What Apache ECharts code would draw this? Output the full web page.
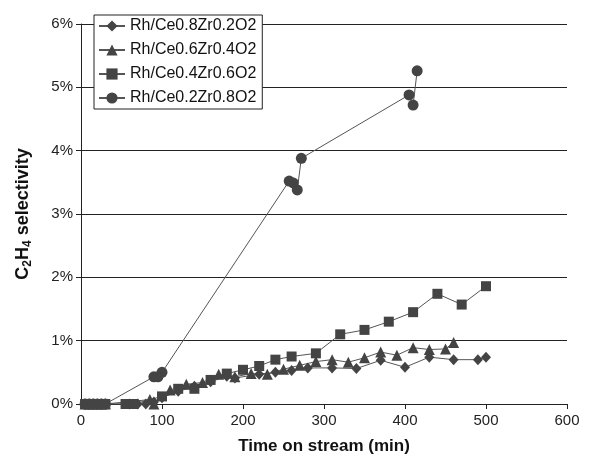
<!DOCTYPE html>
<html>
<head>
<meta charset="utf-8">
<script src="https://cdn.jsdelivr.net/npm/echarts@6/dist/echarts.min.js"></script>
<style>
html,body{margin:0;padding:0;background:#fff;}
#chart{width:606px;height:466px;}
</style>
</head>
<body>
<div id="chart"></div>
<script>
// Data (x: minutes, y: C2H4 selectivity in %)
const seriesNames = ['Rh/Ce0.8Zr0.2O2', 'Rh/Ce0.6Zr0.4O2', 'Rh/Ce0.4Zr0.6O2', 'Rh/Ce0.2Zr0.8O2'];
const xTicks = [0, 100, 200, 300, 400, 500, 600];
const yTicks = [0, 1, 2, 3, 4, 5, 6];

const ce08Time = [5, 10, 15, 20, 25, 30, 60, 70, 80, 90, 100, 120, 140, 160, 180, 190, 220, 240, 260, 280, 310, 340, 370, 400, 430, 460, 490, 500];
const ce08Sel  = [0, 0, 0, 0, 0, 0, 0, 0, 0, 0.03, 0.1, 0.2, 0.28, 0.35, 0.44, 0.41, 0.47, 0.5, 0.53, 0.57, 0.57, 0.56, 0.69, 0.58, 0.74, 0.7, 0.7, 0.74];

const ce06Time = [5, 10, 15, 20, 25, 30, 85, 90, 110, 130, 150, 170, 190, 210, 230, 250, 270, 290, 310, 330, 350, 370, 390, 410, 430, 450, 460];
const ce06Sel  = [0, 0, 0, 0, 0, 0, 0.07, 0, 0.22, 0.31, 0.34, 0.47, 0.43, 0.48, 0.47, 0.55, 0.61, 0.67, 0.7, 0.66, 0.73, 0.82, 0.77, 0.89, 0.86, 0.87, 0.97];

const ce04Time = [5, 10, 15, 20, 25, 30, 55, 65, 100, 120, 140, 160, 180, 200, 220, 240, 260, 290, 320, 350, 380, 410, 440, 470, 500];
const ce04Sel  = [0, 0, 0, 0, 0, 0, 0, 0, 0.12, 0.24, 0.24, 0.38, 0.48, 0.54, 0.6, 0.7, 0.75, 0.8, 1.1, 1.17, 1.3, 1.45, 1.74, 1.57, 1.86];

const ce02Time = [5, 10, 15, 20, 25, 30, 90, 95, 100, 257, 262, 267, 272, 405, 410, 415];
const ce02Sel  = [0, 0, 0, 0, 0, 0, 0.43, 0.43, 0.5, 3.52, 3.49, 3.38, 3.88, 4.88, 4.72, 5.26];

const times = [ce08Time, ce06Time, ce04Time, ce02Time];
const sels = [ce08Sel, ce06Sel, ce04Sel, ce02Sel];
const symbols = ['diamond', 'triangle', 'rect', 'circle'];
const symbolSizes = [[10, 11], 11, 10, 11];

const FONT = '"Liberation Sans", Arial, sans-serif';

const chart = echarts.init(document.getElementById('chart'), null, {renderer: 'canvas'});

const series = seriesNames.map((name, i) => ({
  name: name,
  type: 'line',
  data: times[i].map((t, j) => [t, sels[i][j]]),
  symbol: symbols[i],
  symbolSize: symbolSizes[i],
  showAllSymbol: true,
  lineStyle: {color: '#555', width: 1},
  itemStyle: {color: '#444', borderWidth: 0},
  emphasis: {disabled: true},
  animation: false
}));

chart.setOption({
  animation: false,
  backgroundColor: '#fff',
  textStyle: {fontFamily: FONT},
  grid: {left: 81, right: 39, top: 24, bottom: 62, containLabel: false},
  legend: {
    orient: 'vertical',
    left: 94,
    top: 15,
    data: seriesNames,
    backgroundColor: '#fff',
    borderColor: '#222',
    borderWidth: 1,
    borderRadius: 0,
    padding: [3, 6, 3, 4],
    itemGap: 8,
    itemWidth: 26,
    itemHeight: 14,
    textStyle: {fontFamily: FONT, fontSize: 16, color: '#111'},
    selectedMode: false
  },
  xAxis: {
    type: 'value',
    min: xTicks[0],
    max: xTicks[xTicks.length - 1],
    interval: 100,
    name: 'Time on stream (min)',
    nameLocation: 'middle',
    nameGap: 34,
    nameTextStyle: {fontFamily: FONT, fontSize: 17, fontWeight: 'bold', color: '#111'},
    axisLine: {show: true, lineStyle: {color: '#222', width: 1}},
    axisTick: {show: true, length: 5, lineStyle: {color: '#222'}},
    axisLabel: {fontFamily: FONT, fontSize: 15, color: '#222', margin: 9},
    splitLine: {show: false}
  },
  yAxis: {
    type: 'value',
    min: yTicks[0],
    max: yTicks[yTicks.length - 1],
    interval: 1,
    name: '{b|C}{s|2}{b|H}{s|4}{b| selectivity}',
    nameLocation: 'middle',
    nameRotate: 90,
    nameGap: 47,
    nameTextStyle: {
      fontFamily: FONT, fontSize: 18, fontWeight: 'bold', color: '#111',
      rich: {
        b: {fontFamily: FONT, fontSize: 18, fontWeight: 'bold', color: '#111', lineHeight: 22, verticalAlign: 'middle'},
        s: {fontFamily: FONT, fontSize: 12, fontWeight: 'bold', color: '#111', lineHeight: 12, verticalAlign: 'bottom'}
      }
    },
    axisLine: {show: true, lineStyle: {color: '#222', width: 1}},
    axisTick: {show: true, length: 5, lineStyle: {color: '#222'}},
    axisLabel: {fontFamily: FONT, fontSize: 15, color: '#222', margin: 8, formatter: '{value}%'},
    splitLine: {show: true, lineStyle: {color: '#222', width: 1}}
  },
  series: series
});
</script>
</body>
</html>
